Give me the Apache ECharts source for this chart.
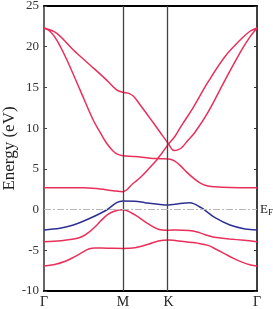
<!DOCTYPE html>
<html><head><meta charset="utf-8">
<script src="https://cdn.jsdelivr.net/npm/echarts@6/dist/echarts.min.js"></script>
<style>html,body{margin:0;padding:0;background:#fff}#c{width:273px;height:309px}</style>
</head><body><div id="c"></div>
<script>
// high-symmetry points along the k-path
const kTicks = [0, 0.371, 0.585, 1];
const kLabels = ['Γ', 'M', 'K', 'Γ'];
// energy axis
const eMin = -10, eMax = 25, eStep = 5;
const fermiLevel = 0;

// bands: [k, E(eV)]
const band1 = [[0,-6.93],[0.05,-6.75],[0.1,-6.35],[0.14,-5.85],[0.18,-5.25],[0.21,-4.85],[0.24,-4.73],[0.3,-4.74],[0.371,-4.77],[0.427,-4.68],[0.49,-4.26],[0.537,-3.86],[0.585,-3.73],[0.615,-3.8],[0.685,-4.02],[0.72,-4.12],[0.77,-4.4],[0.81,-4.9],[0.85,-5.45],[0.89,-6.0],[0.93,-6.45],[0.97,-6.8],[1,-6.93]];
const band2 = [[0,-3.94],[0.08,-3.82],[0.14,-3.62],[0.18,-3.3],[0.21,-2.8],[0.24,-2.1],[0.27,-1.3],[0.30,-0.6],[0.33,-0.2],[0.371,-0.03],[0.427,-0.66],[0.49,-1.77],[0.537,-2.42],[0.585,-2.54],[0.62,-2.5],[0.68,-2.56],[0.72,-2.75],[0.76,-3.12],[0.80,-3.4],[0.87,-3.6],[0.94,-3.78],[1,-3.94]];
const band3 = [[0,-2.5],[0.075,-2.3],[0.138,-1.9],[0.216,-1.07],[0.294,-0.05],[0.341,0.85],[0.371,1.05],[0.427,1.02],[0.474,0.85],[0.537,0.65],[0.585,0.56],[0.615,0.65],[0.685,0.85],[0.74,0.2],[0.764,-0.25],[0.803,-1.0],[0.873,-1.9],[0.944,-2.38],[1,-2.5]];
const band4 = [[0,2.69],[0.185,2.69],[0.263,2.53],[0.325,2.32],[0.371,2.2],[0.419,3.23],[0.451,3.9],[0.498,5.2],[0.529,6.1],[0.554,6.95],[0.585,8.05],[0.615,9.0],[0.65,10.5],[0.693,12.2],[0.771,15.7],[0.85,18.8],[0.928,21.0],[0.967,21.9],[1,22.3]];
const band5 = [[0,22.3],[0.028,21.9],[0.06,20.8],[0.107,18.4],[0.169,14.7],[0.231,11.0],[0.263,9.5],[0.294,8.14],[0.324,7.2],[0.347,6.77],[0.371,6.62],[0.427,6.52],[0.498,6.3],[0.545,6.25],[0.585,6.21],[0.61,6.0],[0.64,5.4],[0.67,4.6],[0.70,3.9],[0.73,3.3],[0.76,2.95],[0.80,2.8],[0.87,2.7],[1,2.69]];
const band6 = [[0,22.3],[0.06,21.65],[0.138,19.6],[0.216,17.76],[0.294,15.9],[0.341,14.7],[0.371,14.4],[0.395,14.3],[0.419,13.95],[0.45,12.9],[0.498,11.2],[0.545,9.5],[0.585,8.05],[0.6,7.45],[0.612,7.25],[0.625,7.3],[0.646,7.6],[0.676,8.5],[0.709,9.5],[0.771,12.0],[0.85,15.9],[0.928,19.6],[0.967,21.2],[1,22.3]];

const bands = [band1, band2, band3, band4, band5, band6];
const RED = '#e8305a', BLUE = '#2e3192';
const bandColors = [RED, RED, BLUE, RED, RED, RED];
const SERIF = '"Liberation Serif", "DejaVu Serif", serif';

const chart = echarts.init(document.getElementById('c'), null, {renderer: 'canvas'});
const series = bands.map((b, i) => ({
  type: 'line', data: b, showSymbol: false, smooth: 0.35,
  lineStyle: {color: bandColors[i], width: 1.5}, itemStyle: {color: bandColors[i]},
  silent: true, z: 3
}));
series.push({
  type: 'line', data: [], silent: true, z: 4,
  markLine: {
    silent: true, symbol: ['none', 'none'], animation: false,
    data: [
      {xAxis: kTicks[1], lineStyle: {color: '#444', width: 1.3, type: 'solid'}, label: {show: false}},
      {xAxis: kTicks[2], lineStyle: {color: '#444', width: 1.3, type: 'solid'}, label: {show: false}},
      {yAxis: fermiLevel, lineStyle: {color: '#b8b8b8', width: 1, type: [7, 2, 2, 2]},
       label: {show: true, position: 'end', distance: 3, formatter: '{e|E}{f|F}',
         rich: {e: {fontFamily: SERIF, fontSize: 13, color: '#222'},
                f: {fontFamily: SERIF, fontSize: 9, color: '#222', padding: [7, 0, 0, 0]}}}}
    ]
  }
});

chart.setOption({
  animation: false,
  backgroundColor: '#fff',
  grid: {left: 44, right: 16, top: 6, bottom: 18, outerBoundsMode: 'none', containLabel: false},
  xAxis: [{
    type: 'value', min: 0, max: 1, position: 'bottom',
    axisLine: {show: true, onZero: false, lineStyle: {color: '#000', width: 2}},
    axisTick: {show: false},
    splitLine: {show: false},
    axisLabel: {
      customValues: kTicks, margin: 4, color: '#222', fontFamily: SERIF, fontSize: 14,
      formatter: v => { let best = 0; kTicks.forEach((t, i) => { if (Math.abs(t - v) < Math.abs(kTicks[best] - v)) best = i; }); return kLabels[best]; }
    }
  }, {
    type: 'value', min: 0, max: 1, position: 'top',
    axisLine: {show: true, onZero: false, lineStyle: {color: '#000', width: 2}},
    axisTick: {show: false}, axisLabel: {show: false}, splitLine: {show: false}
  }],
  yAxis: [{
    type: 'value', min: eMin, max: eMax, interval: eStep, position: 'left',
    name: 'Energy (eV)', nameLocation: 'middle', nameGap: 26, nameMoveOverlap: false,
    nameTextStyle: {fontFamily: SERIF, fontSize: 17, color: '#222'},
    axisLine: {show: true, onZero: false, lineStyle: {color: '#666', width: 2}},
    axisTick: {show: true, inside: true, length: 3, lineStyle: {color: '#444', width: 1}},
    splitLine: {show: false},
    axisLabel: {margin: 5, color: '#333', fontFamily: SERIF, fontSize: 13}
  }, {
    type: 'value', min: eMin, max: eMax, interval: eStep, position: 'right',
    axisLine: {show: true, onZero: false, lineStyle: {color: '#000', width: 1.5}},
    axisTick: {show: true, inside: true, length: 3, lineStyle: {color: '#333', width: 1}},
    splitLine: {show: false}, axisLabel: {show: false}
  }],
  series: series
});
</script></body></html>
